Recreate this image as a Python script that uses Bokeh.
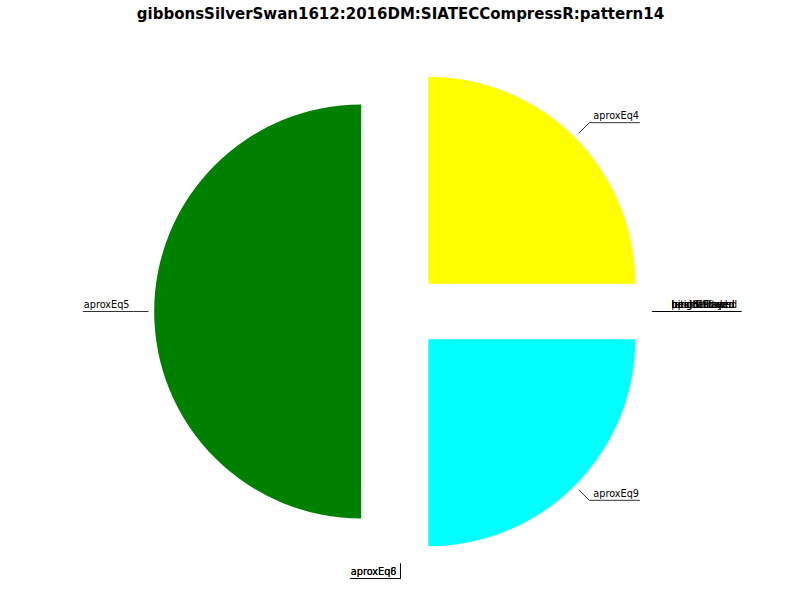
import numpy as np
from bokeh.plotting import figure
from bokeh.models import ColumnDataSource, Range1d, Label
from bokeh.core.properties import value
from bokeh.embed import file_html
from bokeh.resources import INLINE

# ---- data ----
labels = ["aproxEq4", "aproxEq5", "aproxEq6", "aproxEq8", "aproxEq9",
          "beatShifted", "heightScaled", "lengthPlayed", "pitchGrouped", "upsideDown"]
values = [1, 2, 0, 0, 1, 0, 0, 0, 0, 0]
colors = ["#ffff00", "#008000", "#ff0000", "#ff00ff", "#00ffff",
          "#0000ff", "#ff8000", "#808080", "#800080", "#000080"]
title = "gibbonsSilverSwan1612:2016DM:SIATECCompressR:pattern14"

# ---- geometry ----
W, H = 800, 600
S = 207.0               # pixels per radius unit
CX, CY = 400.0, 311.0   # pie centre in pixels (from top)
explode = 0.19
FS = 9.7                # label font size px

vals = np.array(values, dtype=float)
ang = 2 * np.pi * vals / vals.sum()
starts = np.concatenate([[0.0], np.cumsum(ang)[:-1]])
ends = starts + ang
mids = (starts + ends) / 2

wx, wy, ws, we, wc = [], [], [], [], []
for i in range(len(vals)):
    if vals[i] <= 0:
        continue
    wx.append(explode * np.cos(mids[i]))
    wy.append(explode * np.sin(mids[i]))
    ws.append(starts[i]); we.append(ends[i]); wc.append(colors[i])

p = figure(width=W, height=H, output_backend="svg", toolbar_location=None,
           x_range=Range1d(-CX / S, (W - CX) / S),
           y_range=Range1d(-(H - CY) / S, CY / S),
           min_border=0, outline_line_color=None)
p.axis.visible = False
p.grid.visible = False
p.background_fill_color = "white"
p.border_fill_color = "white"

p.wedge(x="x", y="y", radius=1.0, start_angle="s", end_angle="e", color="c",
        line_color=None,
        source=ColumnDataSource(dict(x=wx, y=wy, s=ws, e=we, c=wc)))

# label leader lines + texts
def text_w(t):
    return len(t) * 0.6 * FS / S

xs, ys, tx, ty, tt, ta = [], [], [], [], [], []
for i, lab in enumerate(labels):
    ux, uy = np.cos(mids[i]), np.sin(mids[i])
    side = 1.0 if ux >= 0 else -1.0
    p0 = (1.217 * ux, 1.217 * uy)
    el = (1.29 * ux, 1.29 * uy)
    tw = text_w(lab)
    end_x = el[0] + side * (4 / S + tw)
    xs.append([p0[0], el[0], end_x]); ys.append([p0[1], el[1], el[1]])
    tx.append(el[0] + side * 4 / S); ty.append(el[1] + 1.5 / S)
    tt.append(lab); ta.append("left" if side > 0 else "right")

p.multi_line(xs=xs, ys=ys, line_color="black", line_width=0.8)
p.text(x="x", y="y", text="t", text_align="a", text_baseline="bottom",
       text_font_size=value(f"{FS}px"), text_font=value("DejaVu Sans"),
       text_color="black",
       source=ColumnDataSource(dict(x=tx, y=ty, t=tt, a=ta)))

p.add_layout(Label(x=W / 2, y=H - 13, x_units="screen", y_units="screen",
                   text=title, text_align="center", text_baseline="middle",
                   text_font="DejaVu Sans", text_font_style="bold",
                   text_font_size="15px", text_color="black"))

open("out.html", "w").write(file_html(p, INLINE))
